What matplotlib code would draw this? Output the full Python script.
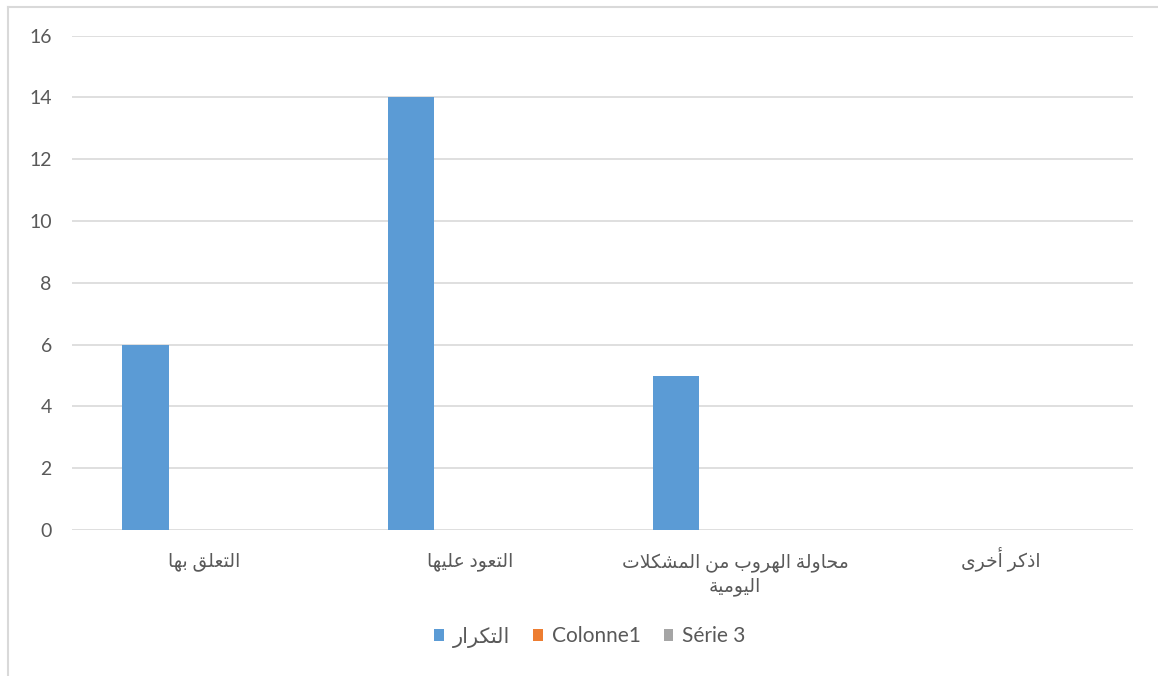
import matplotlib
matplotlib.use("Agg")
import matplotlib.pyplot as plt
from matplotlib.patches import Rectangle
from matplotlib.lines import Line2D
from matplotlib.transforms import ScaledTranslation
import numpy as np

# ---------------- data ----------------
categories = ["التعلق بها", "التعود عليها", "محاولة الهروب من المشكلات\nاليومية", "اذكر أخرى"]
series_names = ["التكرار", "Colonne1", "Série 3"]
series1 = [6, 14, 5, 0]
series2 = [0, 0, 0, 0]
series3 = [0, 0, 0, 0]
y_ticks = [0, 2, 4, 6, 8, 10, 12, 14, 16]
colors = ["#5B9BD5", "#ED7D31", "#A5A5A5"]

# ---------------- minimal Arabic shaping ----------------
FORMS = {
    'ا': (0xFE8D, 0xFE8E, None, None), 'أ': (0xFE83, 0xFE84, None, None),
    'إ': (0xFE87, 0xFE88, None, None), 'آ': (0xFE81, 0xFE82, None, None),
    'ب': (0xFE8F, 0xFE90, 0xFE91, 0xFE92), 'ة': (0xFE93, 0xFE94, None, None),
    'ت': (0xFE95, 0xFE96, 0xFE97, 0xFE98), 'ث': (0xFE99, 0xFE9A, 0xFE9B, 0xFE9C),
    'ج': (0xFE9D, 0xFE9E, 0xFE9F, 0xFEA0), 'ح': (0xFEA1, 0xFEA2, 0xFEA3, 0xFEA4),
    'خ': (0xFEA5, 0xFEA6, 0xFEA7, 0xFEA8), 'د': (0xFEA9, 0xFEAA, None, None),
    'ذ': (0xFEAB, 0xFEAC, None, None), 'ر': (0xFEAD, 0xFEAE, None, None),
    'ز': (0xFEAF, 0xFEB0, None, None), 'س': (0xFEB1, 0xFEB2, 0xFEB3, 0xFEB4),
    'ش': (0xFEB5, 0xFEB6, 0xFEB7, 0xFEB8), 'ص': (0xFEB9, 0xFEBA, 0xFEBB, 0xFEBC),
    'ض': (0xFEBD, 0xFEBE, 0xFEBF, 0xFEC0), 'ط': (0xFEC1, 0xFEC2, 0xFEC3, 0xFEC4),
    'ظ': (0xFEC5, 0xFEC6, 0xFEC7, 0xFEC8), 'ع': (0xFEC9, 0xFECA, 0xFECB, 0xFECC),
    'غ': (0xFECD, 0xFECE, 0xFECF, 0xFED0), 'ف': (0xFED1, 0xFED2, 0xFED3, 0xFED4),
    'ق': (0xFED5, 0xFED6, 0xFED7, 0xFED8), 'ك': (0xFED9, 0xFEDA, 0xFEDB, 0xFEDC),
    'ل': (0xFEDD, 0xFEDE, 0xFEDF, 0xFEE0), 'م': (0xFEE1, 0xFEE2, 0xFEE3, 0xFEE4),
    'ن': (0xFEE5, 0xFEE6, 0xFEE7, 0xFEE8), 'ه': (0xFEE9, 0xFEEA, 0xFEEB, 0xFEEC),
    'و': (0xFEED, 0xFEEE, None, None), 'ى': (0xFEEF, 0xFEF0, None, None),
    'ي': (0xFEF1, 0xFEF2, 0xFEF3, 0xFEF4),
}
LAMALEF = {'ا': (0xFEFB, 0xFEFC), 'أ': (0xFEF7, 0xFEF8), 'إ': (0xFEF9, 0xFEFA), 'آ': (0xFEF5, 0xFEF6)}


def dual(c):
    return c in FORMS and FORMS[c][2] is not None


def shape_line(s):
    out = []
    i = 0
    n = len(s)
    while i < n:
        c = s[i]
        if c not in FORMS:
            out.append(c)
            i += 1
            continue
        prev = s[i - 1] if i > 0 else ''
        join_prev = dual(prev)
        if c == 'ل' and i + 1 < n and s[i + 1] in LAMALEF:
            iso, fin = LAMALEF[s[i + 1]]
            out.append(chr(fin if join_prev else iso))
            i += 2
            continue
        nxt = s[i + 1] if i + 1 < n else ''
        join_next = dual(c) and nxt in FORMS
        iso, fin, ini, med = FORMS[c]
        if join_prev and join_next:
            code = med
        elif join_prev:
            code = fin
        elif join_next:
            code = ini
        else:
            code = iso
        out.append(chr(code))
        i += 1
    return ''.join(reversed(out))


def ar(s):
    return '\n'.join(shape_line(l) for l in s.split('\n'))


# ---------------- plot ----------------
plt.rcParams['font.family'] = ['Lato', 'DejaVu Sans']
W, H = 1158, 676
fig = plt.figure(figsize=(W / 100, H / 100), dpi=100)
fig.patch.set_facecolor('white')

left, right, bottom_px, top_px = 72, 1133, 530, 35.7
ax = fig.add_axes([left / W, (H - bottom_px) / H, (right - left) / W, (bottom_px - top_px) / H])

x = np.arange(len(categories))
width = 0.175
offset = 0.223
all_series = [series1, series2, series3]
handles = []
for k, vals in enumerate(all_series):
    ax.bar(x + (k - 1) * offset, vals, width=width, color=colors[k], linewidth=0, zorder=3)
    handles.append(Rectangle((0, 0), 1, 1, facecolor=colors[k], linewidth=0))

ax.set_xlim(-0.5, len(categories) - 0.5)
ax.set_ylim(0, 16)
ax.set_yticks(y_ticks)
ax.set_yticklabels([str(t) for t in y_ticks])
ax.set_xticks(x)
ax.yaxis.grid(True, color='#D9D9D9', linewidth=1.2, zorder=0)
ax.xaxis.grid(False)
ax.set_axisbelow(True)
for sp in ax.spines.values():
    sp.set_visible(False)
ax.tick_params(axis='both', length=0, colors='#595959')
ax.tick_params(axis='y', labelsize=14, pad=14.5)
ax.tick_params(axis='x', labelsize=13.5, pad=26)
ax.set_xticklabels([ar(c) for c in categories], linespacing=1.3)

line_gap_px = 25
for lbl, cat in zip(ax.get_xticklabels(), categories):
    lbl.set_verticalalignment('baseline')
    extra = cat.count('\n')
    if extra:
        lbl.set_transform(lbl.get_transform() +
                          ScaledTranslation(0, -extra * line_gap_px / 100, fig.dpi_scale_trans))

leg_labels = [ar(series_names[0]), series_names[1], series_names[2]]
leg = fig.legend(handles, leg_labels, loc='center', bbox_to_anchor=(590 / W, 1 - 637 / H),
                 ncol=3, frameon=False, fontsize=15, handlelength=0.45, handleheight=0.45,
                 handletextpad=0.45, columnspacing=1.1, labelcolor='#595959')

# chart border (top and left visible)
fig.add_artist(Line2D([8 / W, 8 / W], [-0.01, 1 - 7 / H], transform=fig.transFigure, color='#D9D9D9', lw=1.5))
fig.add_artist(Line2D([8 / W, 1.01], [1 - 7 / H, 1 - 7 / H], transform=fig.transFigure, color='#D9D9D9', lw=1.5))

fig.savefig('out.png', dpi=100, facecolor='white')
